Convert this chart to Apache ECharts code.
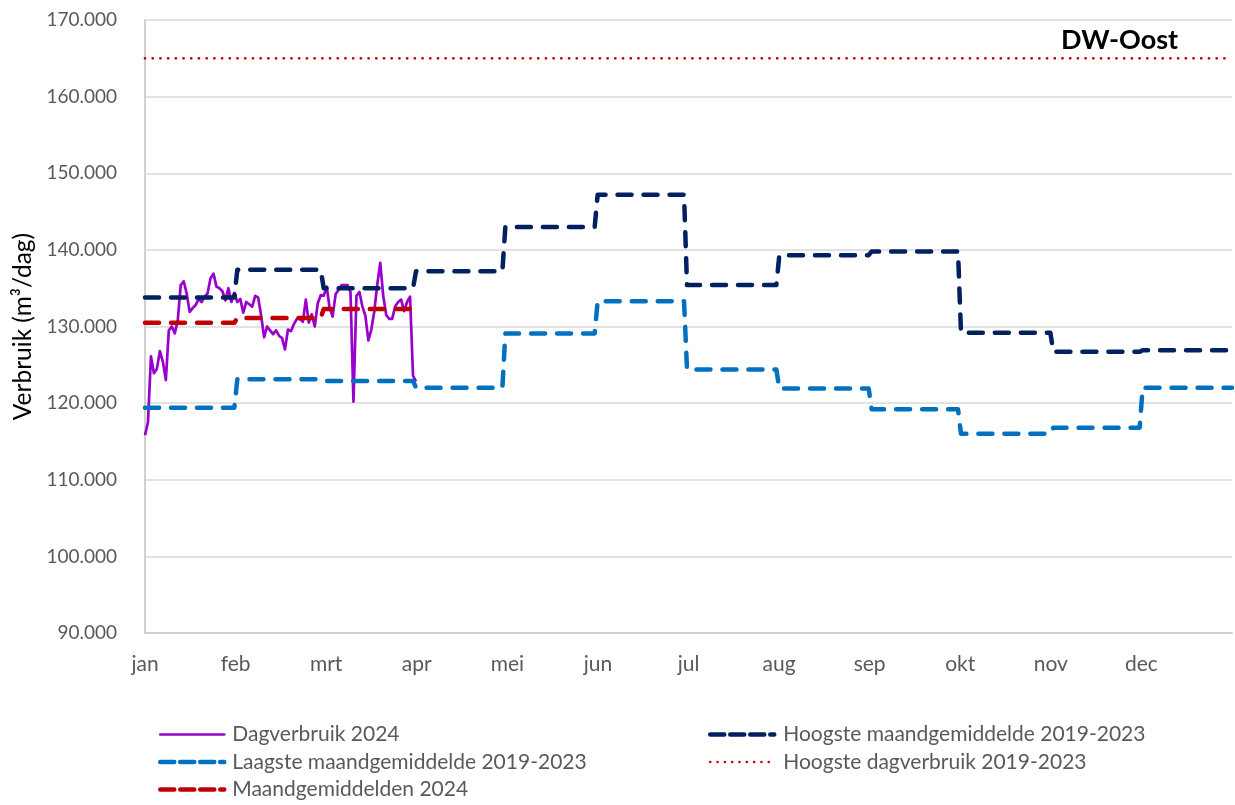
<!DOCTYPE html>
<html>
<head>
<meta charset="utf-8">
<script src="https://cdn.jsdelivr.net/npm/echarts@6/dist/echarts.min.js"></script>
<style>
  html, body { margin: 0; padding: 0; background: #ffffff; }
  #chart { width: 1235px; height: 805px; }
</style>
</head>
<body>
<div id="chart"></div>
<script>
// ---- Data (values in thousands of m³/dag) ----
const monthLabels = ['jan', 'feb', 'mrt', 'apr', 'mei', 'jun', 'jul', 'aug', 'sep', 'okt', 'nov', 'dec'];
const monthStartDay = [0, 31, 60, 91, 121, 152, 182, 213, 244, 274, 305, 335]; // 2024 day index
const yearEndDay = 365;
const yTicks = [90, 100, 110, 120, 130, 140, 150, 160, 170];

const highestMonthlyAvg = [133.8, 137.4, 135.0, 137.2, 143.0, 147.2, 135.4, 139.3, 139.8, 129.2, 126.7, 126.9];
const lowestMonthlyAvg  = [119.4, 123.1, 122.9, 122.0, 129.1, 133.3, 124.4, 121.9, 119.2, 116.0, 116.8, 122.0];
const monthlyAvg2024    = [130.5, 131.1, 132.3];
const highestDaily      = 165.0;

const daily2024 = [
  115.8, 117.5, 126.1, 123.9, 124.5, 126.8, 125.4, 123.0, 129.5, 130.0,
  129.1, 130.8, 135.4, 135.9, 134.3, 131.9, 132.4, 132.8, 133.6, 133.2,
  133.9, 134.3, 136.3, 136.9, 135.2, 135.0, 134.6, 133.4, 135.0, 133.2,
  134.4, 133.2, 133.6, 131.8, 133.2, 132.9, 132.6, 134.0, 133.8, 131.4,
  128.6, 130.0, 129.5, 129.0, 129.5, 128.8, 128.5, 127.0, 129.6, 129.4,
  130.3, 131.0, 131.0, 130.6, 133.5, 130.5, 131.6, 130.0, 133.0, 134.1,
  134.0, 135.2, 132.4, 131.3, 134.2, 134.8, 135.4, 135.4, 135.4, 134.5,
  120.2, 134.0, 134.5, 132.6, 131.4, 128.2, 129.6, 132.0, 135.5, 138.3,
  134.0, 131.5, 131.0, 131.0, 132.6, 133.2, 133.5, 132.0, 133.2, 133.9,
  123.6, 122.8
];

// ---- Build series data ----
function monthlyToDaily(vals) {
  const pts = [];
  vals.forEach((v, i) => {
    const s = monthStartDay[i];
    const e = i + 1 < monthStartDay.length ? monthStartDay[i + 1] - 1 : yearEndDay;
    pts.push([s, v * 1000], [e, v * 1000]);
  });
  return pts;
}
const dailyData = daily2024.map((v, i) => [i, v * 1000]);
const fmt = v => String(v).replace(/\B(?=(\d{3})+(?!\d))/g, '.');

const FONT = 'Lato, "Open Sans", sans-serif';
const dash = [14, 12];

const C_PURPLE = '#9900CC', C_NAVY = '#002060', C_BLUE = '#0070C0', C_RED = '#C00000';

function legendItem(name, color, width, type) {
  return { name: name,
    itemStyle: { color: 'rgba(0,0,0,0)', borderWidth: 0, opacity: 0 },
    lineStyle: { color: color, width: width, type: type, cap: 'round' } };
}

const legendText = { fontSize: 21, color: '#595959', fontFamily: FONT, lineHeight: 21 };

const chart = echarts.init(document.getElementById('chart'), null, { renderer: 'canvas' });
chart.setOption({
  animation: false,
  backgroundColor: '#ffffff',
  textStyle: { fontFamily: FONT },
  title: {
    text: 'DW-Oost',
    left: 1056, top: 22,
    textStyle: { fontFamily: FONT, fontSize: 27, fontWeight: 'bold', color: '#000000' }
  },
  grid: { left: 145, right: 0, top: 20, bottom: 172, containLabel: false },
  xAxis: [
    {
      type: 'value', min: 0, max: yearEndDay,
      axisLine: { show: true, lineStyle: { color: '#d0d0d0', width: 2 } },
      axisTick: { show: false }, axisLabel: { show: false }, splitLine: { show: false }
    },
    {
      type: 'value', min: 0, max: 12, interval: 1, position: 'bottom',
      axisLine: { show: false }, axisTick: { show: false }, splitLine: { show: false },
      axisLabel: {
        margin: 21, fontSize: 21, color: '#595959', fontFamily: FONT,
        formatter: v => monthLabels[v] || ''
      }
    }
  ],
  yAxis: {
    type: 'value', min: yTicks[0] * 1000, max: yTicks[yTicks.length - 1] * 1000, interval: 10000,
    name: 'Verbruik (m³/dag)', nameLocation: 'middle', nameGap: 109,
    nameTextStyle: { fontSize: 24.5, color: '#000000', fontFamily: FONT },
    axisLine: { show: true, lineStyle: { color: '#d0d0d0', width: 2 } },
    axisTick: { show: false },
    splitLine: { show: true, lineStyle: { color: '#d9d9d9', width: 1.5 } },
    axisLabel: { margin: 28, fontSize: 19, color: '#595959', fontFamily: FONT, formatter: fmt }
  },
  legend: [
    {
      data: [
        legendItem('Dagverbruik 2024', C_PURPLE, 2.5, 'solid'),
        legendItem('Laagste maandgemiddelde 2019-2023', C_BLUE, 4.5, [14, 6]),
        legendItem('Maandgemiddelden 2024', C_RED, 4.5, [14, 6])
      ],
      orient: 'vertical', left: 158, top: 724, padding: 0,
      itemWidth: 64, itemHeight: 14, itemGap: 6.5,
      textStyle: Object.assign({ padding: [0, 0, 0, 3] }, legendText)
    },
    {
      data: [
        legendItem('Hoogste maandgemiddelde 2019-2023', C_NAVY, 4.5, [14, 6]),
        legendItem('Hoogste dagverbruik 2019-2023', C_RED, 2.6, [0.01, 7.3])
      ],
      orient: 'vertical', left: 708, top: 724, padding: 0,
      itemWidth: 64, itemHeight: 14, itemGap: 6.5,
      textStyle: Object.assign({ padding: [0, 0, 0, 4] }, legendText)
    }
  ],
  series: [
    {
      name: 'Dagverbruik 2024', type: 'line', xAxisIndex: 0, symbol: 'none',
      data: dailyData,
      lineStyle: { color: C_PURPLE, width: 2.7, join: 'round' },
      itemStyle: { color: C_PURPLE }
    },
    {
      name: 'Hoogste maandgemiddelde 2019-2023', type: 'line', xAxisIndex: 0, symbol: 'none',
      data: monthlyToDaily(highestMonthlyAvg),
      lineStyle: { color: C_NAVY, width: 4.5, type: dash, cap: 'round', join: 'round' },
      itemStyle: { color: C_NAVY }
    },
    {
      name: 'Laagste maandgemiddelde 2019-2023', type: 'line', xAxisIndex: 0, symbol: 'none',
      data: monthlyToDaily(lowestMonthlyAvg),
      lineStyle: { color: C_BLUE, width: 4.5, type: dash, cap: 'round', join: 'round' },
      itemStyle: { color: C_BLUE }
    },
    {
      name: 'Hoogste dagverbruik 2019-2023', type: 'line', xAxisIndex: 0, symbol: 'none',
      data: [[0, highestDaily * 1000], [yearEndDay, highestDaily * 1000]],
      lineStyle: { color: C_RED, width: 2.8, type: [0.01, 7.7], cap: 'round' },
      itemStyle: { color: C_RED }
    },
    {
      name: 'Maandgemiddelden 2024', type: 'line', xAxisIndex: 0, symbol: 'none',
      data: monthlyToDaily(monthlyAvg2024),
      lineStyle: { color: C_RED, width: 4.5, type: dash, cap: 'round', join: 'round' },
      itemStyle: { color: C_RED }
    }
  ]
});
</script>
</body>
</html>
